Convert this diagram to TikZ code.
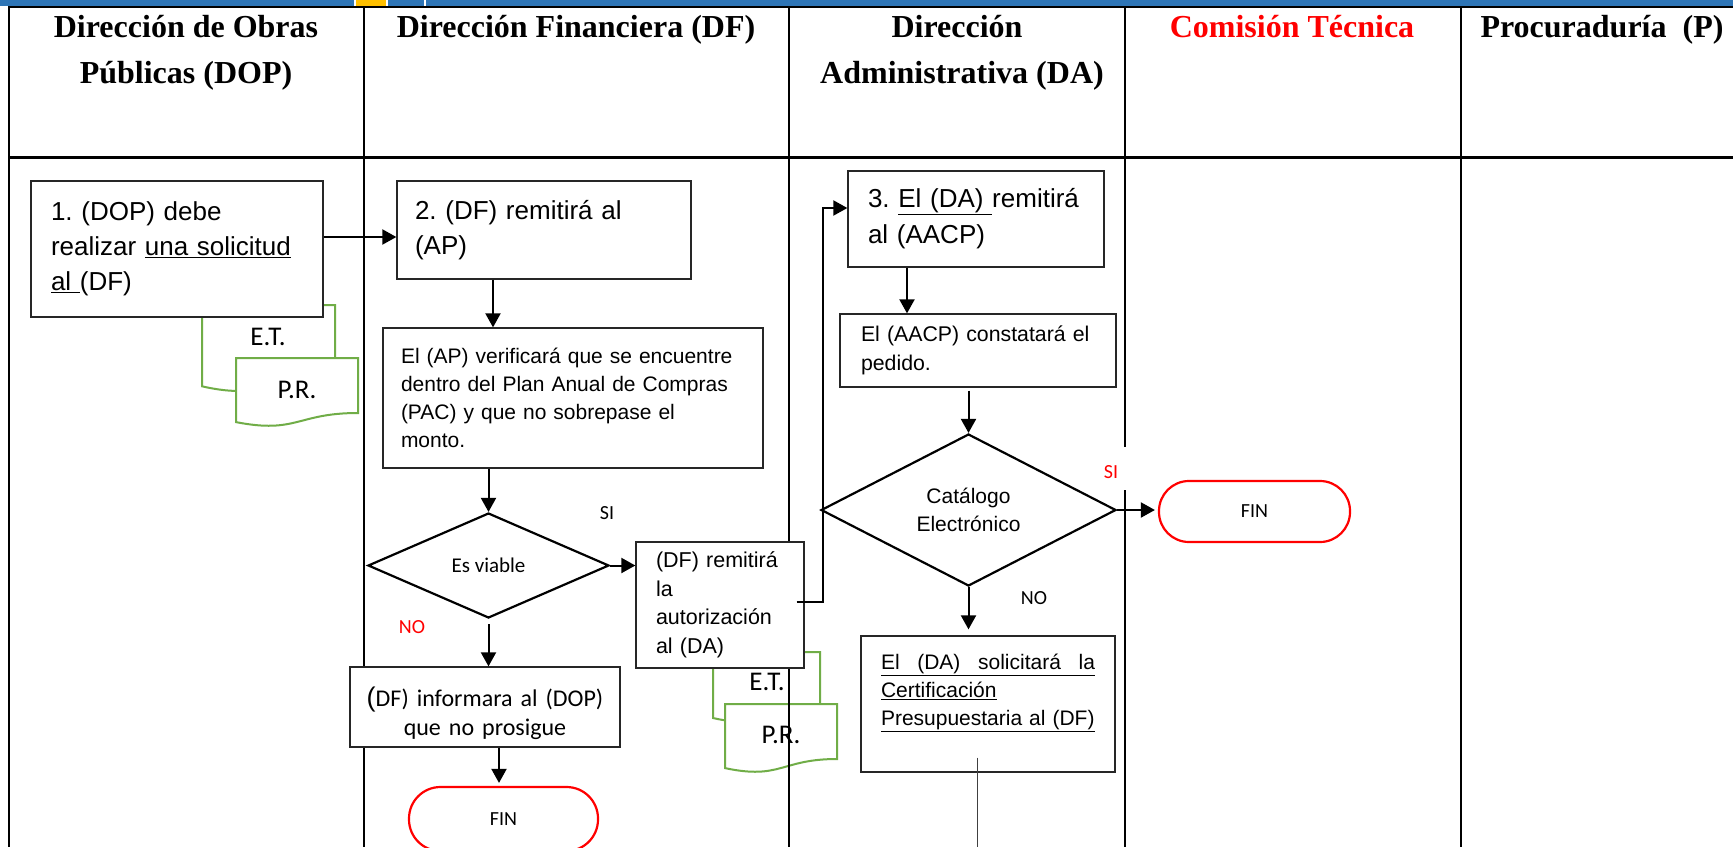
\documentclass[tikz,border=0pt]{standalone}
\usepackage{fontspec}
\setmainfont{Liberation Serif}
\newfontfamily\arial{Liberation Sans}
\newfontfamily\calibri{Carlito}
\usetikzlibrary{shapes.geometric,arrows.meta}
\newcommand\fsz[2]{\fontsize{#1}{#2}\selectfont}
\definecolor{barblue}{HTML}{2E75B6}
\definecolor{baryellow}{HTML}{FFC000}
\definecolor{docgreen}{HTML}{70AD47}
\frenchspacing
\begin{document}
\begin{tikzpicture}[x=1pt,y=-1pt,
  lane/.style={line width=2pt,black},
  hdr/.style={anchor=base,inner sep=0pt,font=\bfseries\fsz{32}{40}},
  procbox/.style={draw=black!85,line width=1.3pt,fill=white,rectangle,align=left,inner ysep=0pt},
  decision/.style={diamond,draw=black,line width=2.2pt,fill=white,inner sep=0pt},
  term/.style={rectangle,draw=red,line width=2.2pt,fill=white,font=\calibri\fsz{20}{24}},
  arr/.style={line width=2pt,-{Triangle[length=14pt,width=15pt]}},
  docline/.style={draw=docgreen,line width=2pt,fill=white},
  doclbl/.style={inner sep=0pt,font=\calibri\fsz{27}{30}},
  lbl/.style={inner sep=0pt,font=\calibri\fsz{20}{24}}
]
\fill[white] (0,0) rectangle (1733,847);
\useasboundingbox (0,0) rectangle (1733,847);

% top bar
\fill[barblue] (0,0) rectangle (1733,6);
\fill[white] (354,0) rectangle (388,6.5);
\fill[baryellow] (356,0) rectangle (386,6);
\fill[white] (424.3,0) rectangle (425.7,6);

% documents, group 1
\draw[docline] (202,305) -- (335,305) -- (335,374.8) .. controls (268.5,374.8) and (268.5,401.4) .. (202,386.3) -- cycle;
\node[doclbl] (et1) at (268,337) {E.T.};
\draw[docline] (236,358) -- (358,358) -- (358,413) .. controls (297,413) and (297,434) .. (236,422.1) -- cycle;
\node[doclbl] (pr1) at (297,390) {P.R.};

% documents, group 2
\draw[docline] (713,652) -- (820,652) -- (820,708.7) .. controls (766.5,708.7) and (766.5,730.3) .. (713,718) -- cycle;
\node[doclbl] (et2) at (767,682) {E.T.};
\draw[docline] (725,704) -- (837,704) -- (837,759) .. controls (781,759) and (781,780) .. (725,768.1) -- cycle;
\node[doclbl] (pr2) at (781,735) {P.R.};

% table lines
\draw[lane] (8,7) -- (1733,7);
\draw[black,line width=3pt] (8,157.5) -- (1733,157.5);
\draw[lane] (9,6) -- (9,847);
\draw[lane] (364,6) -- (364,847);
\draw[lane] (789,6) -- (789,847);
\draw[lane] (1125,6) -- (1125,447);
\draw[lane] (1125,490) -- (1125,847);
\draw[lane] (1461,6) -- (1461,847);

% header texts
\node[hdr] (h1a) at (186,37) {Dirección de Obras};
\node[hdr] (h1b) at (186,83) {Públicas (DOP)};
\node[hdr] (h2) at (576,37) {Dirección Financiera (DF)};
\node[hdr] (h3a) at (957,37) {Dirección};
\node[hdr] (h3b) at (962,83) {Administrativa (DA)};
\node[hdr,text=red] (h4) at (1292,37) {Comisión Técnica};
\node[hdr] (h5) at (1602,37) {Procuraduría\ \ (P)};

% boxes
\node[procbox,minimum width=292pt,minimum height=136pt,text width=252pt,inner xsep=20pt,font=\arial\fsz{26}{35}] (b1) at (177,249)
  {1. (DOP) debe\\realizar \underline{una solicitud}\\\underline{al\ }(DF)};
\node[procbox,minimum width=294pt,minimum height=98pt,text width=258pt,inner xsep=18pt,font=\arial\fsz{26}{35}] (b2) at (544,230)
  {2. (DF) remitirá al\\(AP)};
\node[procbox,minimum width=380pt,minimum height=140pt,text width=344pt,inner xsep=18pt,font=\arial\fsz{21}{28}] (ap) at (573,398)
  {El (AP) verificará que se encuentre\\dentro del Plan Anual de Compras\\(PAC) y que no sobrepase el\\monto.};
\node[decision,minimum width=241pt,minimum height=105pt,aspect=2.3,font=\calibri\fsz{21}{25}] (ev) at (488.5,565.5) {Es viable};
\node[procbox,minimum width=168pt,minimum height=126pt,text width=128pt,inner xsep=20pt,font=\arial\fsz{21.5}{28.5}] (dfr) at (720,605)
  {(DF) remitirá\\la\\autorización\\al (DA)};
\node[procbox,align=center,minimum width=270pt,minimum height=80pt,text width=250pt,inner xsep=10pt,font=\calibri\fsz{24}{29}] (inf) at (485,707)
  {\rule{0pt}{33pt}{\arial\fsz{27}{30}(}DF) informara al (DOP)\\que no prosigue};
\node[term,minimum width=189pt,minimum height=64pt,rounded corners=31.5pt] (fin1) at (503.5,819) {FIN};
\node[procbox,minimum width=256pt,minimum height=96pt,text width=216pt,inner xsep=20pt,font=\arial\fsz{26}{36}] (b3) at (976,219)
  {3. \underline{El (DA)\ }remitirá\\al (AACP)};
\node[procbox,minimum width=276pt,minimum height=73pt,text width=234pt,inner xsep=21pt,font=\arial\fsz{21.3}{29}] (aacp) at (978,350.5)
  {El (AACP) constatará el\\pedido.};
\node[decision,minimum width=295pt,minimum height=152pt,aspect=1.94,align=center,font=\arial\fsz{21}{28}] (cat) at (968.5,510)
  {Catálogo\\Electrónico};
\node[term,minimum width=191pt,minimum height=61pt,rounded corners=30pt] (fin2) at (1254.5,511.5) {FIN};
\node[procbox,minimum width=254pt,minimum height=136pt,text width=214pt,inner xsep=20pt,font=\arial\fsz{21}{28}] (sol) at (988,704)
  {\underline{\hbox to 214pt{El\hfill (DA)\hfill solicitará\hfill la}}\\\underline{Certificación}\\\underline{Presupuestaria al (DF)}\\\mbox{}};

% connectors
\draw[arr] ([yshift=12pt]b1.east) -- ([yshift=12pt]b1.east -| b2.west);
\draw[arr] ([xshift=-51pt]b2.south) -- ([xshift=-51pt]b2.south |- ap.north);
\draw[arr] (ev.north |- ap.south) -- (ev.north);
\draw[arr] (ev.east) -- (ev.east -| dfr.west);
\draw[arr,shorten <=5pt] (ev.south) -- (ev.south |- inf.north);
\draw[arr,shorten >=3pt] ([xshift=14pt]inf.south) -- ([xshift=14pt]inf.south |- fin1.north);
\draw[arr] ([xshift=-8pt,yshift=3pt]dfr.east) -- ++(26pt,0) |- ([yshift=11pt]b3.west);
\draw[arr] ([xshift=-69pt]b3.south) -- ([xshift=-69pt]b3.south |- aacp.north);
\draw[arr,shorten <=3pt] (cat.north |- aacp.south) -- (cat.north);
\draw[arr,shorten >=3pt] (cat.east) -- (cat.east -| fin2.west);
\draw[arr,shorten >=6pt] (cat.south) -- (cat.south |- sol.north);
\coordinate (solend) at (977,847);
\draw[line width=1pt,black!75] ([xshift=-11pt,yshift=15pt]sol.south) -- (solend);

% labels
\node[lbl] (si1) at (607,513) {SI};
\node[lbl,text=red] (no1) at (412,627) {NO};
\node[lbl,text=red] (si2) at (1111,472) {SI};
\node[lbl] (no2) at (1034,598) {NO};
\end{tikzpicture}
\end{document}
